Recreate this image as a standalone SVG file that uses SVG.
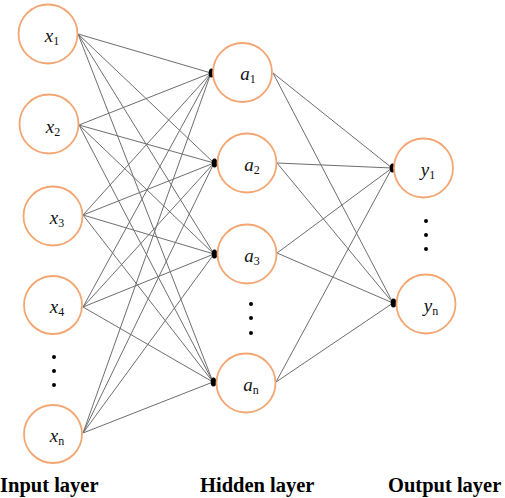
<svg xmlns="http://www.w3.org/2000/svg" width="505" height="498" viewBox="0 0 505 498">
<style>
.node circle{fill:#fff;stroke:#F4A672;stroke-width:1.8}
.lbl{font-family:'Liberation Serif','Times New Roman','DejaVu Serif',serif;font-style:italic;font-size:19px;fill:#111;text-anchor:middle}
.sub{font-style:normal;font-size:12px}
.conn line{stroke:#6e6e6e;stroke-width:1}
.conn ellipse{fill:#000}
.dot{fill:#000}
.layer{font-family:'Liberation Serif','Times New Roman','DejaVu Serif',serif;font-weight:bold;font-size:20.5px;fill:#000}
</style>
<rect width="505" height="498" fill="#fff"/>
<g id="connectors" class="conn">
<line x1="78" y1="34" x2="211" y2="73"/><line x1="78" y1="34" x2="214" y2="163"/><line x1="78" y1="34" x2="214" y2="254"/><line x1="78" y1="34" x2="213" y2="382"/>
<line x1="79" y1="125" x2="211" y2="73"/><line x1="79" y1="125" x2="214" y2="163"/><line x1="79" y1="125" x2="214" y2="254"/><line x1="79" y1="125" x2="213" y2="382"/>
<line x1="83" y1="215" x2="211" y2="73"/><line x1="83" y1="215" x2="214" y2="163"/><line x1="83" y1="215" x2="214" y2="254"/><line x1="83" y1="215" x2="213" y2="382"/>
<line x1="83" y1="307" x2="211" y2="73"/><line x1="83" y1="307" x2="214" y2="163"/><line x1="83" y1="307" x2="214" y2="254"/><line x1="83" y1="307" x2="213" y2="382"/>
<line x1="83" y1="433" x2="211" y2="73"/><line x1="83" y1="433" x2="214" y2="163"/><line x1="83" y1="433" x2="214" y2="254"/><line x1="83" y1="433" x2="213" y2="382"/>
<line x1="273" y1="73" x2="392" y2="168"/><line x1="273" y1="73" x2="393" y2="303"/>
<line x1="277" y1="163" x2="392" y2="168"/><line x1="277" y1="163" x2="393" y2="303"/>
<line x1="277" y1="253" x2="392" y2="168"/><line x1="277" y1="253" x2="393" y2="303"/>
<line x1="276" y1="382" x2="392" y2="168"/><line x1="276" y1="382" x2="393" y2="303"/>
<ellipse cx="211.5" cy="73" rx="2.8" ry="4.6"/>
<ellipse cx="214.5" cy="163" rx="2.8" ry="4.6"/>
<ellipse cx="214.5" cy="254" rx="2.8" ry="4.6"/>
<ellipse cx="213.5" cy="382" rx="2.8" ry="4.6"/>
<ellipse cx="392.5" cy="168" rx="2.8" ry="4.6"/>
<ellipse cx="393.5" cy="303" rx="2.8" ry="4.6"/>
</g>
<g id="x1" class="node"><circle cx="48" cy="34" r="29.5"/><text class="lbl" x="52" y="42">x<tspan class="sub" dy="3">1</tspan></text></g>
<g id="x2" class="node"><circle cx="49" cy="124" r="29.5"/><text class="lbl" x="53" y="133">x<tspan class="sub" dy="3">2</tspan></text></g>
<g id="x3" class="node"><circle cx="53" cy="216" r="29.5"/><text class="lbl" x="57" y="224">x<tspan class="sub" dy="3">3</tspan></text></g>
<g id="x4" class="node"><circle cx="53" cy="305" r="29"/><text class="lbl" x="57" y="313">x<tspan class="sub" dy="3">4</tspan></text></g>
<g id="xn" class="node"><circle cx="53" cy="434" r="29"/><text class="lbl" x="57" y="442">x<tspan class="sub" dy="3">n</tspan></text></g>
<g id="x-dots"><circle class="dot" cx="54" cy="357" r="2"/><circle class="dot" cx="54" cy="371" r="2"/><circle class="dot" cx="54" cy="385" r="2"/></g>
<g id="a1" class="node"><circle cx="242.5" cy="72.5" r="29.5"/><text class="lbl" x="248" y="80">a<tspan class="sub" dy="3">1</tspan></text></g>
<g id="a2" class="node"><circle cx="247" cy="163" r="29.5"/><text class="lbl" x="252" y="171">a<tspan class="sub" dy="3">2</tspan></text></g>
<g id="a3" class="node"><circle cx="247" cy="254" r="29.5"/><text class="lbl" x="252" y="262">a<tspan class="sub" dy="3">3</tspan></text></g>
<g id="an" class="node"><circle cx="246" cy="383" r="29.5"/><text class="lbl" x="251" y="391">a<tspan class="sub" dy="3">n</tspan></text></g>
<g id="a-dots"><circle class="dot" cx="251" cy="304" r="2"/><circle class="dot" cx="251" cy="318" r="2"/><circle class="dot" cx="251" cy="333" r="2"/></g>
<g id="y1" class="node"><circle cx="423.5" cy="168" r="29.5"/><text class="lbl" x="428" y="176">y<tspan class="sub" dy="3">1</tspan></text></g>
<g id="yn" class="node"><circle cx="426" cy="304" r="29.5"/><text class="lbl" x="431" y="312">y<tspan class="sub" dy="3">n</tspan></text></g>
<g id="y-dots"><circle class="dot" cx="426" cy="221" r="2"/><circle class="dot" cx="426" cy="235" r="2"/><circle class="dot" cx="426" cy="249" r="2"/></g>
<g id="labels">
<text class="layer" x="0" y="492">Input layer</text>
<text class="layer" x="200" y="492">Hidden layer</text>
<text class="layer" x="388" y="492">Output layer</text>
</g>
</svg>
